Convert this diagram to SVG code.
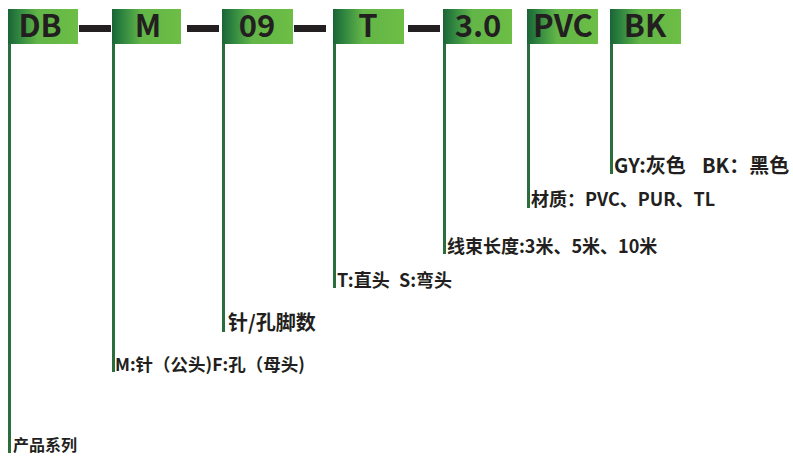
<svg xmlns="http://www.w3.org/2000/svg" width="793" height="458" viewBox="0 0 793 458">
<defs>
<linearGradient id="g" x1="0" y1="0" x2="1" y2="0">
<stop offset="0" stop-color="#1a6436"/>
<stop offset="0.15" stop-color="#2f8540"/>
<stop offset="0.42" stop-color="#62b547"/>
<stop offset="1" stop-color="#6cbe45"/>
</linearGradient>
<style>
.box{fill:url(#g)}
.code{font-family:"Noto Sans CJK SC","Noto Sans",sans-serif;font-weight:bold;font-size:31px;fill:#231f20;text-anchor:middle}
.lab{font-family:"Noto Sans CJK SC","Noto Sans",sans-serif;font-weight:bold;fill:#231f20}
.stem{fill:#2a6e3d}
.dash{fill:#231f20}
</style>
</defs>
<g id="connectors">
<rect class="dash" x="79" y="25" width="32" height="7"/>
<rect class="dash" x="187" y="25" width="32" height="7"/>
<rect class="dash" x="294" y="25" width="32" height="7"/>
<rect class="dash" x="408" y="25" width="32" height="7"/>
<rect class="stem" x="8" y="9" width="3" height="444"/>
<rect class="stem" x="112" y="9" width="3" height="363"/>
<rect class="stem" x="222" y="9" width="3" height="323"/>
<rect class="stem" x="333" y="9" width="3" height="279"/>
<rect class="stem" x="443" y="9" width="3" height="245"/>
<rect class="stem" x="527" y="9" width="3" height="199"/>
<rect class="stem" x="610" y="9" width="3" height="165"/>
</g>
<g id="n-db"><rect class="box" x="8" y="9" width="70" height="35"/><text class="code" x="40" y="37">DB</text></g>
<g id="n-m"><rect class="box" x="112" y="9" width="69" height="35"/><text class="code" x="148" y="37">M</text></g>
<g id="n-09"><rect class="box" x="222" y="9" width="71" height="35"/><text class="code" x="257" y="37">09</text></g>
<g id="n-t"><rect class="box" x="333" y="9" width="71" height="35"/><text class="code" x="368" y="37">T</text></g>
<g id="n-30"><rect class="box" x="443" y="9" width="69" height="35"/><text class="code" x="478" y="37">3.0</text></g>
<g id="n-pvc"><rect class="box" x="527" y="9" width="71" height="35"/><text class="code" x="563" y="37">PVC</text></g>
<g id="n-bk"><rect class="box" x="610" y="9" width="71" height="35"/><text class="code" x="645" y="37">BK</text></g>
<g id="labels">
<text class="lab" x="13" y="451" font-size="16">产品系列</text>
<text class="lab" x="115" y="371" font-size="17.5">M:针（公头)F:孔（母头)</text>
<text class="lab" x="228" y="330" font-size="20">针/孔脚数</text>
<text class="lab" x="337" y="287" font-size="18">T:直头</text>
<text class="lab" x="399" y="287" font-size="18">S:弯头</text>
<text class="lab" x="447" y="253" font-size="18">线束长度:3米、5米、10米</text>
<text class="lab" x="531" y="206" font-size="18">材质：PVC、PUR、TL</text>
<text class="lab" x="614" y="173" font-size="20">GY:灰色</text>
<text class="lab" x="702" y="173" font-size="20">BK：黑色</text>
</g>
</svg>
